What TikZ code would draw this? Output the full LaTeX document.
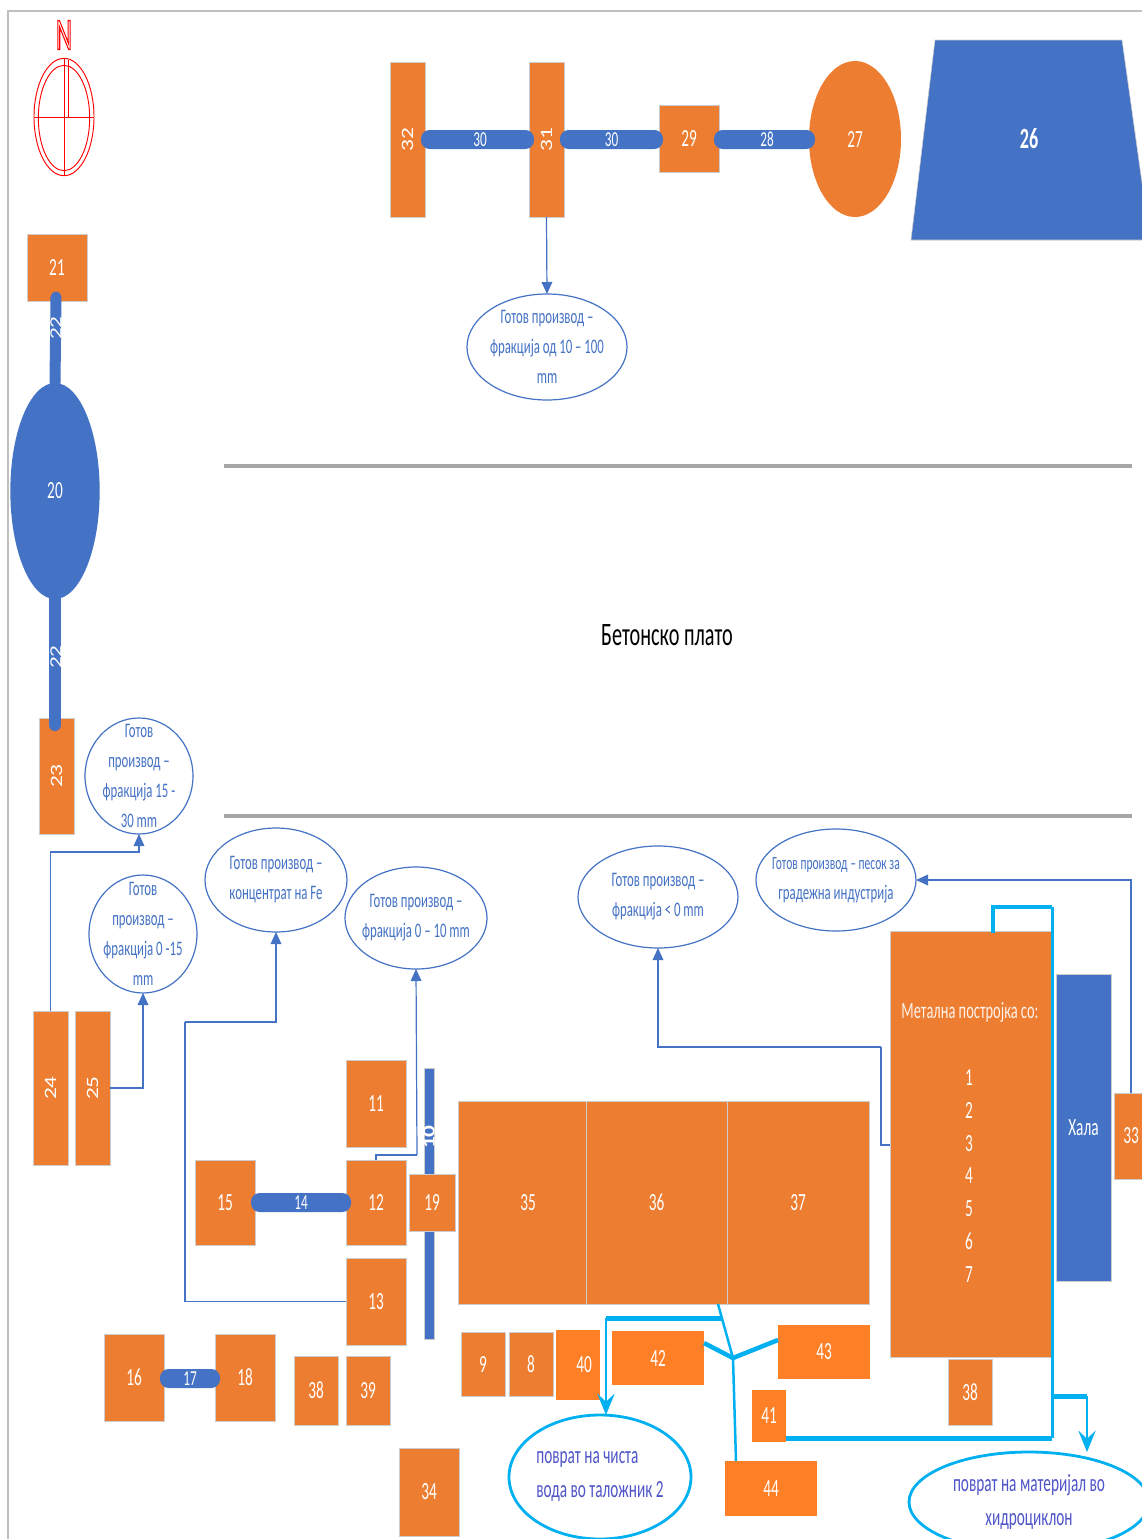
\documentclass[tikz,border=0pt]{standalone}
\usepackage{fontspec}
\setmainfont[FakeStretch=0.62]{Carlito}
\newfontfamily\rotf[FakeStretch=1.35]{Carlito}
\usetikzlibrary{shapes.geometric,arrows.meta}
\definecolor{ob}{HTML}{ED7D31}
\definecolor{ob2}{HTML}{FF7F27}
\definecolor{bl}{HTML}{4472C4}
\definecolor{cy}{HTML}{00B0F0}
\definecolor{gl}{HTML}{A6A6A6}
\definecolor{tv}{HTML}{4F55C8}
\tikzset{
  x=.75pt,y=-.75pt,
  base/.style={rectangle,inner sep=0pt,outer sep=0pt,align=center,text=white,font=\fontsize{18.5}{20}\selectfont},
  ora/.style={base,fill=ob,draw=black!20,line width=.5pt},
  orb/.style={base,fill=ob2},
  blu/.style={base,fill=bl,draw=black!20,line width=.4pt},
  barh/.style={base,fill=bl,rounded corners=6.5pt,font=\fontsize{16}{18}\selectfont},
  bare/.style={line width=#1*.75pt,draw=bl,line cap=round},
  rimb/.style={ellipse,draw=bl,line width=.9pt,fill=white,inner sep=0pt,outer sep=0pt},
  rimbt/.style={inner sep=0pt,align=center,text=bl,font=\fontsize{15.5}{22.5}\selectfont},
  rimc/.style={ellipse,draw=cy,line width=2.1pt,fill=white,inner sep=0pt,outer sep=0pt},
  rimct/.style={inner sep=0pt,align=center,text=tv,font=\fontsize{18.5}{25.5}\selectfont},
  riml/.style={rimc},
  rimlt/.style={rimct,align=left},
  conn/.style={draw=bl,line width=.9pt,-{Triangle[length=9pt,width=8pt]}},
  plain/.style={draw=bl,line width=.9pt},
  cyl/.style={draw=cy,line width=#1*.75pt},
  cya/.style={draw=cy,line width=1.5pt,-{Stealth[length=16pt,width=13pt,inset=6pt]}},
  sep/.style={draw=gl,line width=3pt},
  redl/.style={draw=red,line width=.7pt},
}
\newcommand\bx[7][ora]{%
  \pgfmathsetmacro\bw{(#5-#3)*.75}\pgfmathsetmacro\bh{(#6-#4)*.75}%
  \node[#1,minimum width=\bw pt,minimum height=\bh pt] (#2) at ({(#3+#5)/2},{(#4+#6)/2}) {#7};}
\newcommand\el[7][rimb]{%
  \pgfmathsetmacro\bw{#5*1.5}\pgfmathsetmacro\bh{#6*1.5}%
  \node[#1,minimum width=\bw pt,minimum height=\bh pt] (#2) at (#3,#4) {};
  \node[#1t] (#2t) at (#2.center) {#7};}
\newcommand\rot[1]{\rotatebox{90}{\rotf\fontsize{13}{15}\selectfont #1}}
\begin{document}
\begin{tikzpicture}
\useasboundingbox (0,0) rectangle (1142,1539);
\fill[white] (0,0) rectangle (1142,1539);
% frame
\coordinate (f1) at (8,1539); \coordinate (f2) at (8,11); \coordinate (f3) at (1142,11);
\draw[draw=black!25,line width=1pt] (f1) -- (f2) -- (f3);
% compass
\node[ellipse,redl,minimum width=45pt,minimum height=88pt,inner sep=0pt] (cout) at (64,117) {};
\node[ellipse,redl,minimum width=38.5pt,minimum height=79pt,inner sep=0pt] (cinn) at (64,118) {};
\draw[redl] (cout.north) -- (cout.south);
\draw[redl] (cout.west) -- (cout.east);
\coordinate (cn) at (68,60); \coordinate (cc) at (68,117);
\draw[redl] (cn) -- (cc);
\node[inner sep=0pt,text=red] (north) at (64,35) {\scalebox{1.1}[1.25]{\fontsize{27}{27}\selectfont\special{pdf:code q 1 Tr .7 w}N\special{pdf:code Q}}};
% top row
\path[fill=bl,draw=black!20,line width=.4pt] (935,40) -- (1122,40) -- (1150,240) -- (911,240) -- cycle;
\node[base,font=\bfseries\fontsize{22}{24}\selectfont] (b26) at (1029,139) {26};
\node[base,ellipse,fill=ob,inner sep=0pt,minimum width=69pt,minimum height=117pt] (b27) at (855,139) {27};
\bx{b32}{390}{62}{425}{217}{\rot{32}}
\bx{b31}{529}{62}{564}{217}{\rot{31}}
\bx{b29}{659}{105}{719}{172}{29}
\bx[barh]{b30a}{421}{130}{534}{149}{\hspace{4pt}30}
\bx[barh]{b30b}{560}{130}{663}{149}{30}
\bx[barh]{b28}{714}{130}{815}{149}{\hspace{4pt}28}
\el{eTop}{547}{347}{80}{53}{Готов производ –\\фракција од 10 – 100\\mm}
\draw[conn] (b31.south) -- (eTop.north);
% separators
\coordinate (s1a) at (224,466); \coordinate (s1b) at (1132,466);
\coordinate (s2a) at (224,816); \coordinate (s2b) at (1132,816);
\draw[sep] (s1a) -- (s1b);
\draw[sep] (s2a) -- (s2b);
\node[inner sep=0pt,font=\fontsize{24.5}{26}\selectfont] (plato) at (667,635) {Бетонско плато};
% left column
\bx{b21}{27}{234}{87}{301}{21}
\bx{b23}{39}{718}{74}{834}{\rot{23}}
\node[base,ellipse,fill=bl,minimum width=67pt,minimum height=162pt] (b20) at (55,491) {20};
\coordinate (t1) at (56,297); \coordinate (t2) at (55,725);
\draw[bare=11] (t1) -- (b20.north);
\draw[bare=12] (b20.south) -- (t2);
\node[base] (l22a) at (56,328) {\rot{22}};
\node[base] (l22b) at (56,657) {\rot{22}};
\bx{b24}{33}{1011}{68}{1165}{\rot{24}}
\bx{b25}{75}{1011}{110}{1165}{\rot{25}}
\el{e15}{139}{776}{54}{58}{Готов\\производ –\\фракција 15 -\\30 mm}
\el{e0}{143}{934}{54}{59}{Готов\\производ –\\фракција 0 -15\\mm}
\el{eFe}{276}{880}{71}{52}{Готов производ –\\концентрат на Fe}
\el{e10}{416}{918}{71}{51}{Готов производ –\\фракција 0 – 10 mm}
\el{e00}{658}{897}{80}{51}{Готов производ –\\фракција < 0 mm}
\el{eS}{836}{880}{80}{51}{\fontsize{14}{22.5}\selectfont Готов производ – песок за\\градежна индустрија}
\coordinate (c24) at (50,852);
\draw[conn] (b24.north) |- (c24) -| (e15.south);
\draw[conn] (b25.east) -| (e0.south);
% middle group
\bx{b11}{346}{1060}{406}{1147}{11}
\bx{b12}{346}{1160}{406}{1245}{12}
\bx{b13}{346}{1258}{406}{1345}{13}
\bx{b15}{195}{1160}{255}{1245}{15}
\bx[barh]{b14}{251}{1193}{351}{1212}{14}
\bx[blu]{b10}{424}{1068}{434}{1339}{}
\node[base] (l10) at (429,1137) {\rot{\bfseries 10}};
\bx{b19}{409}{1174}{455}{1231}{19}
\coordinate (c13a) at (185,1022);
\draw[plain] (b13.west) -| (c13a);
\draw[conn] (c13a) -| (eFe.south);
\coordinate (c12) at (417,1155);
\draw[plain] (b12.north) |- (c12);
\draw[conn] (c12) -- (e10.south);
\bx{b16}{104}{1334}{164}{1421}{16}
\bx{b18}{215}{1334}{275}{1421}{18}
\bx[barh]{b17}{160}{1369}{220}{1388}{17}
\bx{b38a}{294}{1356}{338}{1425}{38}
\bx{b39}{346}{1356}{390}{1425}{39}
\bx{b34}{399}{1448}{459}{1536}{34}
\bx{b35}{458}{1101}{586}{1304}{\hspace{9pt}35}
\bx{b36}{586}{1101}{727}{1304}{36}
\bx{b37}{727}{1101}{869}{1304}{37}
\bx{b9}{461}{1332}{505}{1396}{9}
\bx{b8}{509}{1332}{553}{1396}{8}
\bx[orb]{b40}{556}{1330}{600}{1400}{\hspace{9pt}40}
\bx[orb]{b42}{612}{1331}{704}{1385}{42}
\bx[orb]{b43}{778}{1325}{870}{1379}{43}
\bx[orb]{b41}{752}{1390}{786}{1442}{41}
\bx[orb]{b44}{725}{1461}{817}{1516}{44}
% right group
\bx{metal}{890}{931}{1051}{1357}{}
\node[base,font=\fontsize{17.5}{20}\selectfont,text=white!90!ob] (metalt) at (970,1012) {Метална постројка со:};
\node[base,inner sep=0pt,font=\fontsize{18.5}{24.7}\selectfont] (metaln) at (969,1176) {1\\2\\3\\4\\5\\6\\7};
\bx{b38b}{948}{1359}{992}{1425}{38}
\bx[blu]{hala}{1056}{974}{1111}{1281}{Хала}
\bx{b33}{1114}{1093}{1148}{1179}{33}
\coordinate (cm) at (890,1145); \coordinate (cm1) at (881,1047);
\draw[plain] (cm) -| (cm1);
\draw[conn] (cm1) -| (e00.south);
\draw[conn] (b33.north) |- (eS.east);
% cyan lines
\el[riml]{eV}{600}{1477}{91}{62}{поврат на чиста\\вода во таложник 2}
\el[rimc]{eM}{1029}{1502}{120}{50}{поврат на материјал во\\хидроциклон}
\coordinate (m0) at (993,933); \coordinate (m1) at (993,907); \coordinate (m2) at (1052,907);
\coordinate (m3) at (1052,1438); \coordinate (m4) at (1052,1396); \coordinate (m5) at (1087,1396);
\coordinate (j) at (733,1358); \coordinate (j0) at (718,1304); \coordinate (j1) at (722,1318); \coordinate (j2) at (606,1318);
\draw[cyl=4] (m0) -- (m1) -- (m2);
\draw[cyl=3] (m2) -- (m3);
\draw[cyl=5] (m3) -- (b41.east |- m3);
\draw[cyl=5] (m4) -- (m5);
\draw[cya] (m5) -- (eM.north -| m5);
\draw[cyl=2.5] (j0) -- (j);
\draw[cyl=5] (j1) -- (j2);
\draw[cya] (j2) -- (eV.north -| j2);
\draw[cyl=2.5] (j) -- (b44.north -| 736,0);
\draw[cyl=4.5] (b42.east |- 0,1343) -- (j);
\draw[cyl=4.5] (b43.west |- 0,1340) -- (j);
\end{tikzpicture}
\end{document}
